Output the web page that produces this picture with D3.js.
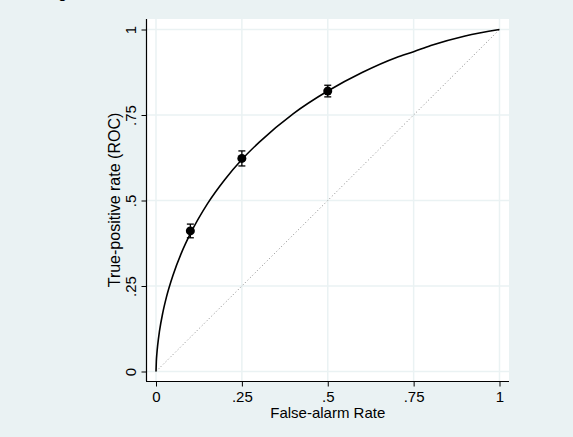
<!DOCTYPE html>
<html>
<head>
<meta charset="utf-8">
<script src="https://cdn.jsdelivr.net/npm/d3@7"></script>
<style>
  html, body { margin: 0; padding: 0; background: #eaf2f3; }
  svg { display: block; font-family: "Liberation Sans", Arial, sans-serif; }
</style>
</head>
<body>
<div id="chart"></div>
<script>
// fitted ROC curve
const curveFpr = [0, 0.001, 0.0025, 0.005, 0.01, 0.02, 0.03, 0.05, 0.075, 0.1, 0.15, 0.2, 0.25, 0.3, 0.4, 0.5, 0.6, 0.7, 0.75, 0.8, 0.9, 1];
const curveTpr = [0, 0.030, 0.052, 0.078, 0.117, 0.173, 0.216, 0.283, 0.349, 0.403, 0.491, 0.561, 0.620, 0.670, 0.754, 0.820, 0.874, 0.918, 0.935, 0.953, 0.981, 1];

// observed points with error bars
const pointFpr = [0.1, 0.25, 0.5];
const pointTpr = [0.411, 0.623, 0.820];
const pointErr = [0.020, 0.022, 0.017];

const tickValues = [0, 0.25, 0.5, 0.75, 1];
const tickLabels = ['0', '.25', '.5', '.75', '1'];

const width = 573;
const height = 437;

const svg = d3.select('#chart')
  .append('svg')
  .attr('width', width)
  .attr('height', height);

svg.append('rect')
  .attr('width', width)
  .attr('height', height)
  .attr('fill', '#eaf2f3');

// clipped title descender at the top edge
svg.append('text')
  .attr('x', 58)
  .attr('y', -2)
  .style('font-size', '16px')
  .text('g');

// plot region
const plot = { left: 147, right: 509, top: 19, bottom: 381 };

svg.append('rect')
  .attr('x', plot.left)
  .attr('y', plot.top)
  .attr('width', plot.right - plot.left)
  .attr('height', plot.bottom - plot.top)
  .attr('fill', '#fff');

const x = d3.scaleLinear().domain([0, 1]).range([156, 499.5]);
const y = d3.scaleLinear().domain([0, 1]).range([371.5, 29.5]);

// grid lines
const grid = svg.append('g').attr('class', 'grid');
grid.selectAll('line.v')
  .data(tickValues)
  .enter().append('line')
  .attr('x1', d => x(d)).attr('x2', d => x(d))
  .attr('y1', plot.top).attr('y2', plot.bottom)
  .attr('stroke', '#eaf2f3')
  .attr('stroke-width', 1.5);
grid.selectAll('line.h')
  .data(tickValues)
  .enter().append('line')
  .attr('y1', d => y(d)).attr('y2', d => y(d))
  .attr('x1', plot.left).attr('x2', plot.right)
  .attr('stroke', '#eaf2f3')
  .attr('stroke-width', 1.5);

// diagonal chance line
svg.append('line')
  .attr('x1', x(0)).attr('y1', y(0))
  .attr('x2', x(1)).attr('y2', y(1))
  .attr('stroke', '#8a8a8a')
  .attr('stroke-width', 1)
  .attr('stroke-dasharray', '1,2.4');

// ROC curve
const line = d3.line()
  .x((d, i) => x(curveFpr[i]))
  .y(d => y(d))
  .curve(d3.curveMonotoneX);

svg.append('path')
  .datum(curveTpr)
  .attr('d', line)
  .attr('fill', 'none')
  .attr('stroke', '#000')
  .attr('stroke-width', 1.6);

// error bars and points
const pts = svg.append('g').attr('class', 'points')
  .selectAll('g')
  .data(pointFpr)
  .enter().append('g');

pts.append('line')
  .attr('x1', d => x(d)).attr('x2', d => x(d))
  .attr('y1', (d, i) => y(pointTpr[i] - pointErr[i]))
  .attr('y2', (d, i) => y(pointTpr[i] + pointErr[i]))
  .attr('stroke', '#000').attr('stroke-width', 1.3);
pts.append('line')
  .attr('x1', d => x(d) - 3.5).attr('x2', d => x(d) + 3.5)
  .attr('y1', (d, i) => y(pointTpr[i] + pointErr[i]))
  .attr('y2', (d, i) => y(pointTpr[i] + pointErr[i]))
  .attr('stroke', '#000').attr('stroke-width', 1.3);
pts.append('line')
  .attr('x1', d => x(d) - 3.5).attr('x2', d => x(d) + 3.5)
  .attr('y1', (d, i) => y(pointTpr[i] - pointErr[i]))
  .attr('y2', (d, i) => y(pointTpr[i] - pointErr[i]))
  .attr('stroke', '#000').attr('stroke-width', 1.3);
pts.append('circle')
  .attr('cx', d => x(d))
  .attr('cy', (d, i) => y(pointTpr[i]))
  .attr('r', 4.5)
  .attr('fill', '#000');

// axes
const yAxis = svg.append('g')
  .attr('transform', `translate(${plot.left - 0.5},0)`)
  .call(d3.axisLeft(y)
    .tickValues(tickValues)
    .tickFormat((d, i) => tickLabels[i])
    .tickSize(5)
    .tickPadding(0));
yAxis.select('.domain').remove();
yAxis.selectAll('.tick line').attr('stroke', '#000');
yAxis.selectAll('.tick text')
  .attr('transform', 'rotate(-90)')
  .attr('x', 0)
  .attr('y', -11)
  .attr('dy', 0)
  .style('text-anchor', 'middle')
  .style('font-size', '15px')
  .attr('fill', '#000');
yAxis.append('line')
  .attr('y1', plot.top).attr('y2', plot.bottom)
  .attr('stroke', '#000').attr('stroke-width', 1.2);

const xAxis = svg.append('g')
  .attr('transform', `translate(0,${plot.bottom + 0.5})`)
  .call(d3.axisBottom(x)
    .tickValues(tickValues)
    .tickFormat((d, i) => tickLabels[i])
    .tickSize(5)
    .tickPadding(0));
xAxis.select('.domain').remove();
xAxis.selectAll('.tick line').attr('stroke', '#000');
xAxis.selectAll('.tick text')
  .attr('y', 20)
  .attr('dy', 0)
  .style('font-size', '15px')
  .attr('fill', '#000');
xAxis.append('line')
  .attr('x1', plot.left - 1).attr('x2', plot.right)
  .attr('stroke', '#000').attr('stroke-width', 1.2);

// axis titles
svg.append('text')
  .attr('transform', `translate(120,${(plot.top + plot.bottom) / 2}) rotate(-90)`)
  .style('text-anchor', 'middle')
  .style('font-size', '16px')
  .text('True-positive rate (ROC)');

svg.append('text')
  .attr('x', (x(0) + x(1)) / 2)
  .attr('y', 418)
  .style('text-anchor', 'middle')
  .style('font-size', '15px')
  .text('False-alarm Rate');
</script>
</body>
</html>
